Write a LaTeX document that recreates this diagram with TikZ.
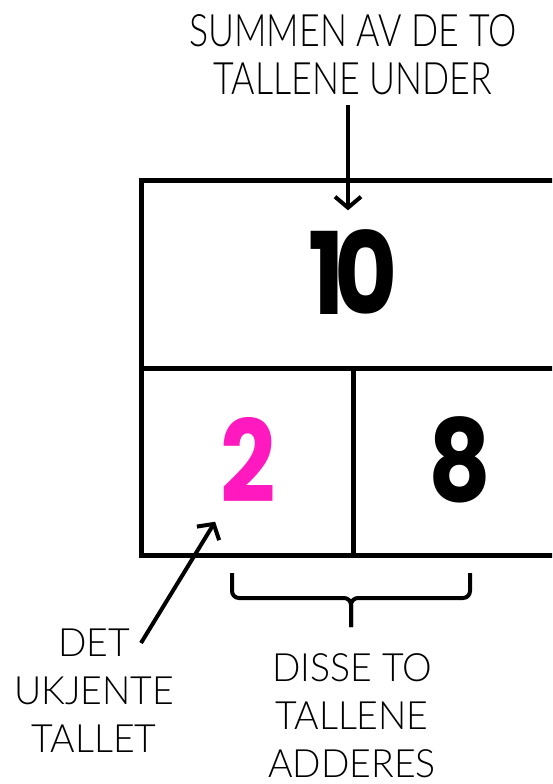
\documentclass[tikz,border=0pt]{standalone}
\usepackage{fontspec}
\usepackage{xcolor}
\usepackage{tikz}
\usetikzlibrary{arrows.meta, positioning}
\newfontfamily\notefont{Lato Light}[FakeStretch=0.96]
\newfontfamily\bignotefont{Lato Light}[FakeStretch=0.8]
\newfontfamily\digitfont{Poppins}[FakeStretch=0.85]
\definecolor{unknownpink}{RGB}{255,25,190}
\tikzstyle{note} = [font=\notefont\fontsize{39}{48}\selectfont, align=center, inner sep=0pt]
\tikzstyle{bignote} = [font=\bignotefont\fontsize{44.7}{48}\selectfont, align=center, inner sep=0pt]
\tikzstyle{number} = [font=\digitfont\bfseries\fontsize{114}{114}\selectfont, inner sep=0pt]
\tikzstyle{frame} = [line width=5pt, draw=black]
\tikzstyle{arrow} = [line width=4pt, -{Straight Barb[length=11pt, width=26pt]}, draw=black]
\tikzstyle{brace} = [line width=4pt, rounded corners=7pt, draw=black]

\begin{document}
\begin{tikzpicture}[x=1pt, y=-1pt]
\useasboundingbox (0,0) rectangle (552,784);
\clip (0,0) rectangle (552,784);

% the box with the three numbers
\draw [frame] (141,180.5) rectangle (565,555);
\draw [frame] (141,368) -- (565,368);
\draw [frame] (353,368) -- (353,555);

\node (total) [number] at (353,272) {1\kern-10pt0};
\node (unknown) [number, text=unknownpink] at (248,460) {2};
\node (known) [number] at (460,460) {8};

% notes
\node (sumnote) [bignote] at (353,55) {SUMMEN AV DE TO\\TALLENE UNDER};
\node (unknownnote) [note] at (94,691) {DET\\UKJENTE\\TALLET};
\node (addnote) [note] at (352,716) {DISSE TO\\TALLENE\\ADDERES};

\coordinate (unknowntail) at (141,643);

\draw [arrow, shorten >=19pt] ([xshift=-5pt, yshift=-10pt]sumnote.south) -- ([xshift=-5pt]total.north);
\draw [arrow] (unknowntail) -- ([shift={(-5pt,-19pt)}]unknown.south west);

% brace over the two lower numbers
\draw [brace] (232,573) -- (232,598) -- (351,598) -- (351,627);
\draw [brace] (470,573) -- (470,598) -- (351,598) -- (351,627);

\end{tikzpicture}
\end{document}
